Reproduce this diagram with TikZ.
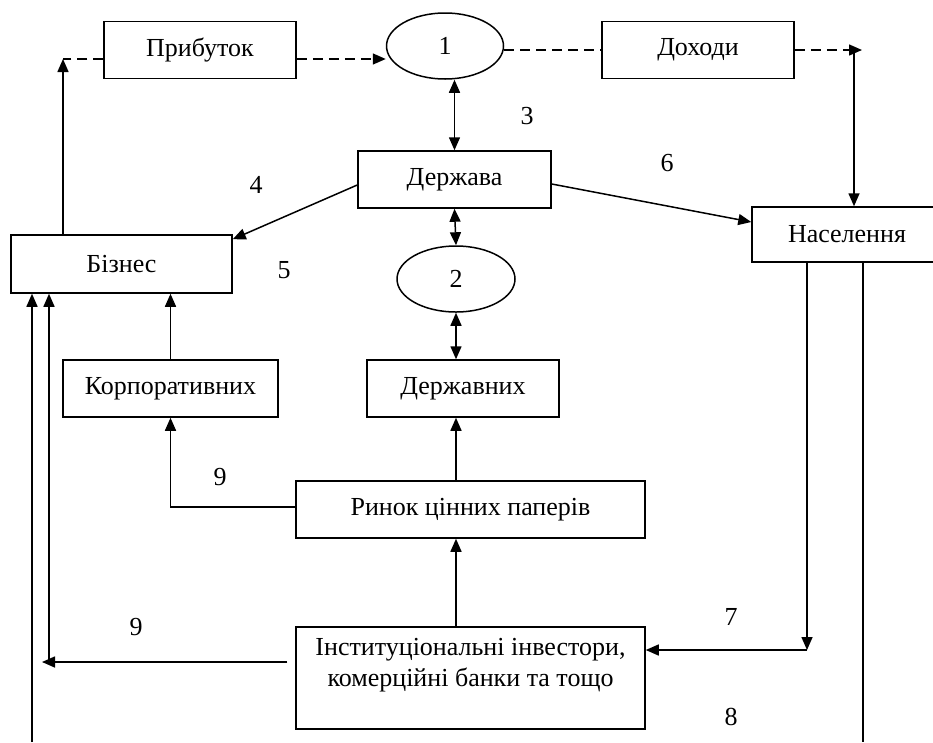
\documentclass[tikz,border=0pt]{standalone}
\usepackage{fontspec}
\setmainfont{Liberation Serif}
\usetikzlibrary{arrows.meta,shapes.geometric}
\newcommand{\diagfont}{\fontsize{26}{31}\selectfont}
\tikzset{
  box/.style={draw, line width=1.5pt, rectangle, inner sep=0pt, minimum height=57pt, font=\diagfont},
  oval/.style={draw, line width=1.5pt, ellipse, inner sep=0pt, minimum width=117pt, minimum height=66pt, font=\diagfont},
  num/.style={inner sep=0pt, font=\diagfont},
  link/.style={line width=1.5pt, -{Triangle[length=13pt,width=11pt]}},
  both/.style={line width=1.5pt, {Triangle[length=13pt,width=11pt]}-{Triangle[length=13pt,width=11pt]}},
  dashline/.style={line width=1.5pt, dash pattern=on 10pt off 6pt}
}

\begin{document}
\begin{tikzpicture}[x=1pt, y=-1pt]
\useasboundingbox (0,0) rectangle (933,742);
\clip (0,0) rectangle (933,742);

\node [box, minimum width=192pt] (prib) at (200,50) {Прибуток};
\node [oval] (ell1) at (445,46) {1};
\node [box, minimum width=192pt] (dokh) at (698,50) {Доходи};
\node [box, minimum width=193pt] (derzh) at (454.5,179.5) {Держава};
\node [box, minimum width=221pt, minimum height=58pt] (biz) at (121.5,264) {Бізнес};
\node [box, minimum width=190pt, minimum height=55pt] (nasel) at (847,234.5) {Населення};
\node [oval, minimum width=118pt] (ell2) at (456,279) {2};
\node [box, minimum width=215pt] (korp) at (170.5,388.5) {Корпоративних};
\node [box, minimum width=192pt] (derzhp) at (463,388.5) {Державних};
\node [box, minimum width=349pt] (rynok) at (470.5,509.5) {Ринок цінних паперів};
\node [box, minimum width=349pt, minimum height=102pt, align=center] (inst) at (470.5,678)
  {Інституціональні інвестори,\\комерційні банки та тощо\\\mbox{}};

\node [num] (n3) at (527,116) {3};
\node [num] (n4) at (256,185) {4};
\node [num] (n5) at (284,270) {5};
\node [num] (n6) at (667,163) {6};
\node [num] (n7) at (731,617) {7};
\node [num] (n8) at (731,717) {8};
\node [num] (n9a) at (220,477) {9};
\node [num] (n9b) at (136,627) {9};

\coordinate (bizup) at (63,59);
\coordinate (dokhend) at (862,50);
\coordinate (naselin) at (854,50);
\coordinate (bizin1) at (32,742);
\coordinate (bizin2) at (49,662);
\coordinate (instout) at (42,662);
\coordinate (naselout) at (807,650);
\coordinate (naselbot) at (863,742);

% upper loop
\draw [dashline, -{Triangle[length=13pt,width=11pt]}] ([yshift=-9pt]prib.east) -- ([yshift=-9pt]prib.east -| ell1.west);
\draw [dashline] ([yshift=-9pt]prib.west) -- (bizup);
\draw [link] (bizup |- biz.north) -- (bizup);
\draw [dashline] (dokh.west -| ell1.east) -- (dokh.west);
\draw [dashline, -{Triangle[length=13pt,width=11pt]}] (dokh.east) -- (dokhend);
\draw [link] (naselin) -- (naselin |- nasel.north);

\draw [both] (derzh.north |- ell1.south) -- (derzh.north);
\draw [link] ([yshift=-5.5pt]derzh.west) -- ([yshift=-5pt]biz.north east);
\draw [link] ([yshift=-4.5pt]derzh.east) -- ([yshift=12.5pt]nasel.west);
\draw [both] (derzh.south) -- (ell2.north);
\draw [both] (ell2.south) -- (ell2.south |- derzhp.north);

% securities market
\draw [link] (korp.north) -- (korp.north |- biz.south);
\draw [link] (ell2.south |- rynok.north) -- (ell2.south |- derzhp.south);
\draw [link] ([yshift=2.5pt]rynok.west) -| (korp.south);
\draw [link] (ell2.south |- inst.north) -- (ell2.south |- rynok.south);

% lower flows
\draw [link] ([xshift=-8pt,yshift=16pt]inst.west) -- (instout);
\draw [link] (bizin2) -- (bizin2 |- biz.south);
\draw [link] (bizin1) -- (bizin1 |- biz.south);
\draw [link] (naselout |- nasel.south) -- (naselout);
\draw [link] (naselout) -- (naselout -| inst.east);
\draw [line width=1.5pt] (naselbot |- nasel.south) -- (naselbot);

\end{tikzpicture}
\end{document}
